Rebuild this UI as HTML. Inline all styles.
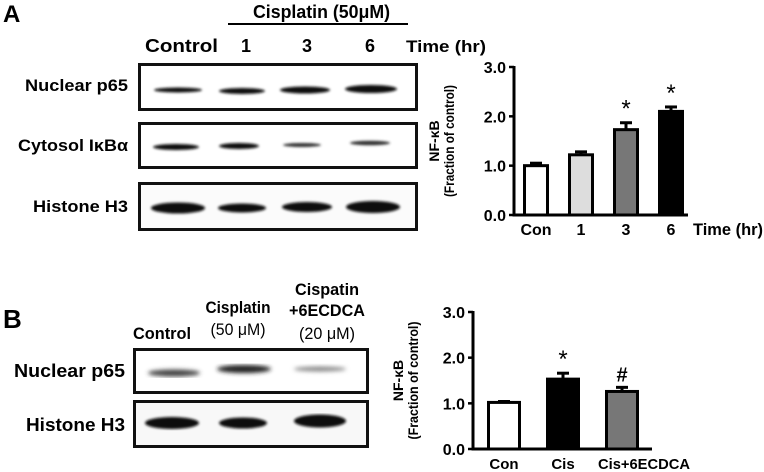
<!DOCTYPE html>
<html><head><meta charset="utf-8"><style>
html,body{margin:0;padding:0;background:#fff;}
svg{display:block;font-family:"Liberation Sans",Arial,sans-serif;}
</style></head><body>
<svg id="fig" width="764" height="472" viewBox="0 0 764 472">
<defs>
<filter id="blur1"><feGaussianBlur stdDeviation="1.3"/></filter>
<filter id="blur2"><feGaussianBlur stdDeviation="2"/></filter>
</defs>
<g font-weight="bold">
<text x="3" y="22" font-size="24">A</text>
<text x="253" y="18" font-size="18" textLength="137" lengthAdjust="spacingAndGlyphs">Cisplatin (50μM)</text>
<line x1="228" y1="24" x2="408" y2="24" stroke="#000" stroke-width="2"/>
<text x="145" y="52" font-size="18" textLength="73" lengthAdjust="spacingAndGlyphs">Control</text>
<text x="246" y="52" font-size="18" text-anchor="middle">1</text>
<text x="307" y="52" font-size="18" text-anchor="middle">3</text>
<text x="370" y="52" font-size="18" text-anchor="middle">6</text>
<text x="406" y="52" font-size="17" textLength="80" lengthAdjust="spacingAndGlyphs">Time (hr)</text>
<text x="25" y="91" font-size="17" textLength="103" lengthAdjust="spacingAndGlyphs">Nuclear p65</text>
<text x="18" y="151" font-size="17" textLength="110" lengthAdjust="spacingAndGlyphs">Cytosol IκBα</text>
<text x="33" y="212" font-size="17" textLength="95" lengthAdjust="spacingAndGlyphs">Histone H3</text>
<rect x="139.5" y="64.5" width="277" height="45" fill="#fff" stroke="#111" stroke-width="3"/>
<rect x="139.5" y="123.5" width="277" height="44" fill="#fff" stroke="#111" stroke-width="3"/>
<rect x="139.5" y="183.5" width="277" height="46" fill="#fbfbfb" stroke="#111" stroke-width="3"/>
<g filter="url(#blur1)" fill="#111">
<ellipse cx="178" cy="90" rx="24" ry="2.5"/>
<ellipse cx="242" cy="91" rx="23" ry="3"/>
<ellipse cx="305" cy="90" rx="25" ry="3.5"/>
<ellipse cx="371" cy="89" rx="26" ry="4"/>
<ellipse cx="176" cy="147" rx="23" ry="3"/>
<ellipse cx="239" cy="146" rx="20" ry="3"/>
<ellipse cx="302" cy="145" rx="19" ry="2" fill="#333"/>
<ellipse cx="370" cy="143" rx="20" ry="2.3" fill="#333"/>
<ellipse cx="178" cy="208" rx="27" ry="5.5"/>
<ellipse cx="242" cy="208" rx="24" ry="4.5"/>
<ellipse cx="307" cy="207" rx="25" ry="5"/>
<ellipse cx="373" cy="207" rx="27" ry="6"/>
</g>
</g>
<g font-weight="bold">
<text x="3" y="328" font-size="26">B</text>
<text x="133" y="339" font-size="17" textLength="58" lengthAdjust="spacingAndGlyphs">Control</text>
<text x="238" y="313" font-size="17" text-anchor="middle" textLength="65" lengthAdjust="spacingAndGlyphs">Cisplatin</text>
<text x="238" y="335" font-size="17" text-anchor="middle" font-weight="normal" textLength="55" lengthAdjust="spacingAndGlyphs">(50 μM)</text>
<text x="327" y="295" font-size="17" text-anchor="middle" textLength="64" lengthAdjust="spacingAndGlyphs">Cispatin</text>
<text x="327" y="316" font-size="17" text-anchor="middle" textLength="76" lengthAdjust="spacingAndGlyphs">+6ECDCA</text>
<text x="327" y="339" font-size="17" text-anchor="middle" font-weight="normal" textLength="56" lengthAdjust="spacingAndGlyphs">(20 μM)</text>
<text x="14" y="377" font-size="18" textLength="111" lengthAdjust="spacingAndGlyphs">Nuclear p65</text>
<text x="26" y="431" font-size="18" textLength="99" lengthAdjust="spacingAndGlyphs">Histone H3</text>
<rect x="134.5" y="349.5" width="233" height="43" fill="#fff" stroke="#111" stroke-width="3"/>
<rect x="134.5" y="401.5" width="233" height="45" fill="#f8f8f8" stroke="#111" stroke-width="3"/>
<g filter="url(#blur2)">
<ellipse cx="174" cy="373" rx="26" ry="3.5" fill="#444"/>
<ellipse cx="244" cy="369" rx="27" ry="4" fill="#222"/>
<ellipse cx="320" cy="369" rx="26" ry="2.5" fill="#888"/>
</g>
<g filter="url(#blur1)" fill="#111">
<ellipse cx="172" cy="423" rx="27" ry="6"/>
<ellipse cx="243" cy="423" rx="24" ry="5.5"/>
<ellipse cx="320" cy="421" rx="26" ry="6.5"/>
</g>
</g>
<g id="chartA"></g>
<g id="chartB"></g>
</svg>
<script>
const catsA = ["Con","1","3","6"];
const valsA = [1.0, 1.22, 1.73, 2.1];
const errsA = [0.05, 0.06, 0.14, 0.09];
const marksA = ["", "", "*", "*"];
const fillsA = ["#fff","#ddd","#777","#000"];
const catsB = ["Con","Cis","Cis+6ECDCA"];
const valsB = [1.02, 1.53, 1.26];
const errsB = [0.02, 0.13, 0.09];
const marksB = ["", "*", "#"];
const fillsB = ["#fff","#000","#777"];
const ticks = ["0.0","1.0","2.0","3.0"];
const NS = "http://www.w3.org/2000/svg";
function mk(parent, tag, attrs){const e=document.createElementNS(NS,tag);for(const k in attrs)e.setAttribute(k,attrs[k]);parent.appendChild(e);return e;}
function draw(g, o){
  const y = v => o.y0 - v*(o.y0-o.y3)/3;
  const x = i => o.x0 + o.first + i*o.step;
  let ax = mk(g,"line",{x1:o.axX,y1:o.y3-1,x2:o.axX,y2:o.y0+1.5,stroke:"#000","stroke-width":3});
  
  
  let bx = mk(g,"line",{x1:o.axX-1.5,y1:o.y0,x2:o.xEnd,y2:o.y0,stroke:"#000","stroke-width":3});
  
  
  ticks.forEach((t,i)=>{
    const v=parseFloat(t);
    let tl=mk(g,"line",{x1:o.axX-5,y1:y(v),x2:o.axX,y2:y(v),stroke:"#000","stroke-width":2.5});
    
    
    let tx=mk(g,"text",{x:o.axX-8,y:y(v)+6,"text-anchor":"end","font-size":16,"font-weight":"bold"});
    tx.textContent=t;
    
    
  });
  const tt=mk(g,"text",{transform:`translate(${o.titleX},${(o.y0+o.y3)/2}) rotate(-90)`,"text-anchor":"middle","font-size":14,"font-weight":"bold"});
  
  
  const t1=mk(tt,"tspan",{x:0,dy:-7}); t1.textContent="NF-κB";
  const t2=mk(tt,"tspan",{x:0,dy:15,textLength:o.tLen,lengthAdjust:"spacingAndGlyphs"}); t2.textContent="(Fraction of control)";
  o.cats.forEach((c,i)=>{
    const cx=x(i), top=y(o.vals[i]), et=y(o.vals[i]+o.errs[i]);
    let el=mk(g,"line",{x1:cx,y1:et,x2:cx,y2:top,stroke:"#000","stroke-width":3});
    
    
    let cap=mk(g,"line",{x1:cx-6,y1:et,x2:cx+6,y2:et,stroke:"#000","stroke-width":3});
    
    
    let r=mk(g,"rect",{x:cx-o.bw/2,y:top,width:o.bw,height:o.y0-top,fill:o.fills[i],stroke:"#000","stroke-width":3});
    
    
    if(o.marks[i]){
      let m=mk(g,"text",{x:cx,y:et-6,"text-anchor":"middle","font-size":o.marks[i]==="*"?24:20,"font-weight":o.marks[i]==="*"?"normal":"bold"});
      m.textContent=o.marks[i];
      
      
    }
    const long = c.length > 4;
    const la = {x:cx + (long ? o.longShift : 0),y:o.labY,"text-anchor":"middle","font-size":o.labSize,"font-weight":"bold"};
    if(long){la.textLength=92; la.lengthAdjust="spacingAndGlyphs";}
    let lb=mk(g,"text",la);
    lb.textContent=c;
    
    
  });
  if(o.xTitle){
    let xt=mk(g,"text",{x:o.xTitleX,y:o.labY,"font-size":17,"font-weight":"bold",textLength:70,lengthAdjust:"spacingAndGlyphs"});
    xt.textContent=o.xTitle;
    
    
  }
}
draw(document.getElementById("chartA"),{cats:catsA,vals:valsA,errs:errsA,marks:marksA,fills:fillsA,
  axX:514,x0:514,first:22,step:45,bw:23,y0:215,y3:67,xEnd:688,labY:235,labSize:16,longShift:0,titleX:446,tLen:112,xTitle:"Time (hr)",xTitleX:693});
draw(document.getElementById("chartB"),{cats:catsB,vals:valsB,errs:errsB,marks:marksB,fills:fillsB,
  axX:473,x0:473,first:31,step:59,bw:31,y0:449,y3:312,xEnd:652,labY:469,labSize:15,longShift:22,titleX:410,tLen:118,xTitle:""});
</script>
</body></html>
